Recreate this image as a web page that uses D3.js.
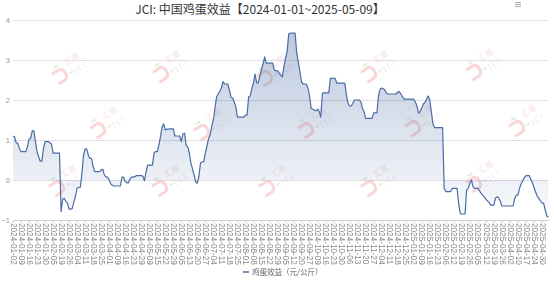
<!DOCTYPE html>
<html>
<head>
<meta charset="utf-8">
<script src="https://cdn.jsdelivr.net/npm/d3@7"></script>
<style>
body { margin: 0; background: #fff; }
svg { display: block; }
</style>
</head>
<body>
<script>
var title = "JCI: 中国鸡蛋效益【2024-01-01~2025-05-09】";
var seriesName = "鸡蛋效益（元/公斤）";

// one label every 5 trading days
var tickEvery = 5;
var tickLabels = [
  "2024-01-02","2024-01-09","2024-01-16","2024-01-23","2024-01-30","2024-02-05","2024-02-19","2024-02-26",
  "2024-03-04","2024-03-11","2024-03-18","2024-03-25","2024-04-01","2024-04-09","2024-04-16","2024-04-23",
  "2024-04-29","2024-05-09","2024-05-15","2024-05-22","2024-05-29","2024-06-05","2024-06-13","2024-06-20",
  "2024-06-27","2024-07-04","2024-07-11","2024-07-18","2024-07-25","2024-08-01","2024-08-08","2024-08-15",
  "2024-08-22","2024-08-29","2024-09-05","2024-09-12","2024-09-20","2024-09-27","2024-10-09","2024-10-16",
  "2024-10-23","2024-10-30","2024-11-06","2024-11-13","2024-11-20","2024-11-27","2024-12-04","2024-12-11",
  "2024-12-18","2024-12-25","2025-01-02","2025-01-09","2025-01-16","2025-01-23","2025-02-06","2025-02-12",
  "2025-02-19","2025-02-26","2025-03-05","2025-03-12","2025-03-19","2025-03-26","2025-04-02","2025-04-10",
  "2025-04-17","2025-04-24","2025-04-30"
];
var yTicks = [-1, 0, 1, 2, 3, 4];

// 鸡蛋效益 per trading day (元/公斤)
var values = [
  1.10,1.08,0.93,0.92,0.79,0.71,0.71,0.71,0.71,0.83,
  1.02,1.04,1.23,1.23,0.96,0.70,0.58,0.47,0.47,0.79,
  0.96,0.96,0.96,0.93,0.90,0.67,0.67,0.67,0.67,0.67,
  -0.79,-0.48,-0.46,-0.54,-0.58,-0.73,-0.73,-0.71,-0.54,-0.40,
  -0.20,-0.19,-0.18,0.17,0.62,0.78,0.77,0.62,0.54,0.54,
  0.33,0.21,0.21,0.21,0.21,0.25,0.27,0.12,0.08,0.07,
  0.00,-0.10,-0.13,-0.15,-0.15,-0.15,-0.15,-0.15,0.07,0.07,
  -0.04,-0.07,-0.07,0.02,0.07,0.08,0.08,0.11,0.11,0.11,
  0.11,0.10,-0.02,0.20,0.37,0.37,0.37,0.37,0.68,0.71,
  0.71,0.87,1.08,1.33,1.40,1.25,1.27,1.27,1.28,1.28,
  1.28,1.10,1.10,1.10,1.10,0.96,1.15,1.17,0.87,0.83,
  0.67,0.42,0.27,0.12,-0.05,-0.08,0.10,0.43,0.45,0.46,
  0.67,0.85,1.04,1.13,1.35,1.50,1.80,2.08,2.15,2.22,
  2.30,2.46,2.40,2.40,2.40,2.25,2.07,2.05,1.95,1.83,
  1.57,1.57,1.57,1.57,1.57,1.62,1.62,2.08,2.10,2.29,
  2.43,2.65,2.43,2.43,2.60,2.77,2.90,3.08,2.92,2.92,
  2.92,2.92,2.92,2.75,2.73,2.73,2.68,2.62,2.58,2.83,
  3.04,3.21,3.65,3.67,3.67,3.67,3.67,3.17,2.95,2.70,
  2.45,2.40,2.40,2.40,2.30,2.10,1.79,1.77,1.75,1.73,
  1.77,1.71,1.57,2.17,2.18,2.18,2.18,2.18,2.54,2.54,
  2.54,2.54,2.42,2.42,2.42,2.42,2.42,2.42,2.12,1.92,
  1.85,1.85,1.92,2.00,2.00,2.00,2.00,1.96,1.79,1.71,
  1.54,1.54,1.54,1.54,1.54,1.68,1.68,1.68,2.10,2.27,
  2.30,2.28,2.25,2.17,2.15,2.15,2.15,2.15,2.15,2.15,
  2.20,2.21,2.15,2.08,2.02,2.02,2.02,2.02,2.02,2.02,
  2.02,1.95,1.85,1.67,1.71,1.80,1.90,1.94,2.02,2.10,
  2.00,1.70,1.40,1.31,1.31,1.31,1.31,1.31,1.31,-0.21,
  -0.29,-0.29,-0.29,-0.29,-0.21,-0.21,-0.21,-0.21,-0.58,-0.83,
  -0.85,-0.85,-0.85,-0.25,-0.21,-0.08,0.00,-0.17,-0.21,-0.21,
  -0.21,-0.27,-0.33,-0.38,-0.42,-0.48,-0.52,-0.56,-0.63,-0.63,
  -0.63,-0.45,-0.42,-0.45,-0.53,-0.65,-0.65,-0.65,-0.65,-0.65,
  -0.65,-0.65,-0.65,-0.46,-0.38,-0.38,-0.21,-0.10,-0.02,0.06,
  0.11,0.11,0.11,0.02,-0.07,-0.18,-0.30,-0.40,-0.46,-0.52,
  -0.57,-0.58,-0.75,-0.90,-0.93
];

var width = 554, height = 281;
var lineColor = "#4a6ca6";

var svg = d3.select("body").append("svg")
  .attr("width", width)
  .attr("height", height)
  .style("font-family", "'Noto Sans', 'Noto Sans CJK SC', sans-serif");

var x = d3.scaleLinear().domain([0, values.length - 1]).range([13, 548.4]);
var y = d3.scaleLinear().domain([-1, 4]).range([220, 20]);

// gradient for area
var grad = svg.append("defs").append("linearGradient")
  .attr("id", "areaGrad")
  .attr("gradientUnits", "userSpaceOnUse")
  .attr("x1", 0).attr("x2", 0)
  .attr("y1", y(3.7)).attr("y2", y(-1));
grad.append("stop").attr("offset", 0).attr("stop-color", lineColor).attr("stop-opacity", 0.38);
grad.append("stop").attr("offset", 1).attr("stop-color", lineColor).attr("stop-opacity", 0.02);

// title
svg.append("text")
  .attr("x", 260).attr("y", 14)
  .attr("text-anchor", "middle")
  .style("font-family", "'Noto Sans CJK SC', sans-serif")
  .style("font-size", "12px")
  .attr("fill", "#333")
  .text(title);

// toolbox icon top right
[2.5, 4.5, 6.5].forEach(function (yy) {
  svg.append("line").attr("x1", 515).attr("x2", 521).attr("y1", yy).attr("y2", yy)
    .attr("stroke", "#aaa").attr("stroke-width", 1);
});

// y axis + grid
var yAxis = svg.append("g")
  .attr("transform", "translate(13,0)")
  .call(d3.axisLeft(y).tickValues(yTicks).tickSize(-535).tickPadding(3).tickFormat(d3.format("d")));
yAxis.select(".domain").remove();
yAxis.selectAll("line").attr("stroke", "#e0e0e0");
yAxis.selectAll("text").attr("fill", "#999").style("font-size", "7.5px");

// watermarks
var marks = [
  [67, 68], [168, 66], [272, 70], [376, 66], [481, 64],
  [105, 122], [209, 124], [313, 122], [420, 120], [524, 120],
  [64, 180], [167, 180], [274, 180], [376, 180], [481, 176]
];
var wm = svg.append("g").attr("opacity", 0.45);
marks.forEach(function (m) {
  var g = wm.append("g").attr("transform", "translate(" + m[0] + "," + m[1] + ") rotate(-33)");
  g.append("path")
    .attr("d", "M-16,-3 L-9,-3 Q-4,-3 -4,3 Q-4,9 -9,9 L-16,9")
    .attr("fill", "none").attr("stroke", "#f2a5a5").attr("stroke-width", 3);
  g.append("line").attr("x1", -11).attr("x2", -6).attr("y1", -7).attr("y2", -7)
    .attr("stroke", "#b5dcb5").attr("stroke-width", 2);
  g.append("text").attr("x", 1).attr("y", -2)
    .style("font-family", "'Noto Sans CJK SC', sans-serif")
    .style("font-size", "8px").attr("fill", "#efb8b8").text("汇易");
  g.append("line").attr("x1", -1).attr("x2", 3).attr("y1", 6).attr("y2", 6)
    .attr("stroke", "#c9c9c9").attr("stroke-width", 1.5);
  g.append("text").attr("x", 5).attr("y", 9)
    .style("font-size", "7px").style("letter-spacing", "2px").attr("fill", "#c9c9c9").text("JCI");
});

// area + line
var area = d3.area()
  .x(function (d, i) { return x(i); })
  .y0(y(0))
  .y1(function (d) { return y(d); });
var line = d3.line()
  .x(function (d, i) { return x(i); })
  .y(function (d) { return y(d); });

svg.append("path").datum(values)
  .attr("d", area)
  .attr("fill", "url(#areaGrad)");
svg.append("path").datum(values)
  .attr("d", line)
  .attr("fill", "none")
  .attr("stroke", lineColor)
  .attr("stroke-width", 1.2)
  .attr("stroke-linejoin", "round");

// x axis
var tickIdx = tickLabels.map(function (d, i) { return i * tickEvery; });
var xAxis = svg.append("g")
  .attr("transform", "translate(0,220)")
  .call(d3.axisBottom(x).tickValues(tickIdx).tickSize(3)
    .tickFormat(function (d) { return tickLabels[d / tickEvery]; }));
xAxis.select(".domain").attr("stroke", "#ccc").attr("d", "M13,0.5H548.4");
xAxis.selectAll("line").attr("stroke", "#ccc");
xAxis.selectAll("text")
  .attr("transform", "rotate(90)")
  .attr("x", 3).attr("y", 0).attr("dy", "0.35em")
  .style("text-anchor", "start")
  .style("font-size", "8.2px")
  .attr("fill", "#888");

// legend
var leg = svg.append("g").attr("transform", "translate(243,272)");
leg.append("line").attr("x1", 0).attr("x2", 6).attr("y1", 0).attr("y2", 0)
  .attr("stroke", lineColor).attr("stroke-width", 1.5);
leg.append("text").attr("x", 9).attr("y", 0).attr("dy", "0.35em")
  .style("font-family", "'Noto Sans CJK SC', sans-serif")
  .style("font-size", "7.5px").attr("fill", "#666")
  .text(seriesName);
</script>
</body>
</html>
